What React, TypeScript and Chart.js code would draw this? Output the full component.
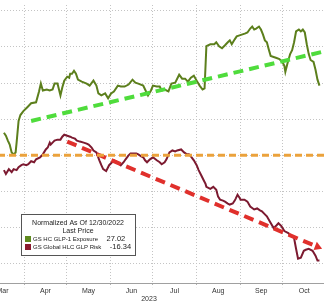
import React, { useEffect, useRef } from 'react';
import { Chart, registerables } from 'chart.js';

Chart.register(...registerables);

// ---- axis / labels ----
const monthLabels = ['Mar', 'Apr', 'May', 'Jun', 'Jul', 'Aug', 'Sep', 'Oct'];
const monthStartDays = [59, 90, 120, 151, 181, 212, 243, 273];
const monthMidDays = [74.5, 105, 135.5, 166, 196.5, 227.5, 258, 288.5];
const yearLabel = '2023';
const gridValues = [-30, -20, -10, 0, 10, 20, 30, 40];

// ---- legend text ----
const legendTitle = ['Normalized As Of 12/30/2022', 'Last Price'];
const greenName = 'GS HC GLP-1 Exposure';
const redName = 'GS Global HLC GLP Risk';
const greenLast = '27.02';
const redLast = '-16.34';

// ---- series (x = day of year 2023, y = normalized %) ----
const greenDays = [75.5, 76.9, 78.3, 79.6, 81.0, 82.4, 83.8, 84.5, 85.9, 87.2, 89.3, 92.1, 94.8, 98.3, 100.4, 101.7, 103.1, 105.9, 108.0, 110.0, 111.4, 113.5, 115.6, 116.9, 118.3, 120.4, 121.8, 122.5, 123.8, 125.2, 126.6, 128.0, 130.7, 134.2, 136.3, 139.0, 141.1, 142.5, 144.6, 147.3, 149.4, 151.5, 153.5, 156.3, 158.4, 161.1, 163.9, 166.7, 168.7, 170.8, 174.3, 176.3, 177.7, 179.8, 181.2, 183.9, 186.0, 187.4, 189.5, 192.2, 194.3, 197.0, 199.8, 201.9, 204.0, 206.0, 208.1, 210.2, 212.2, 214.3, 216.4, 217.8, 219.1, 221.9, 224.7, 226.1, 228.1, 230.2, 232.3, 234.3, 235.7, 237.1, 239.2, 240.6, 242.6, 244.7, 246.8, 248.2, 250.2, 251.6, 253.0, 254.4, 256.4, 257.8, 259.2, 260.6, 262.0, 263.3, 264.7, 266.8, 268.9, 270.9, 273.0, 274.4, 275.1, 276.5, 278.5, 279.9, 281.3, 282.7, 284.7, 286.1, 287.5, 288.9, 290.3, 291.7, 293.0, 295.1, 296.5, 297.9, 299.3];
const greenValues = [6.24, 5.42, 4.06, 2.97, 0.79, 0.25, 0.79, 3.51, 9.51, 11.14, 12.23, 13.32, 14.41, 14.68, 17.68, 19.86, 17.95, 18.22, 17.95, 18.22, 19.86, 19.86, 16.59, 18.77, 20.68, 21.76, 21.49, 22.58, 22.58, 23.40, 22.58, 20.95, 20.40, 19.86, 19.31, 20.68, 19.31, 17.13, 16.59, 17.13, 15.77, 17.13, 17.68, 19.31, 19.04, 19.04, 19.59, 20.95, 20.13, 19.86, 19.31, 17.68, 16.59, 17.95, 19.31, 19.04, 19.04, 17.95, 18.22, 17.68, 19.86, 20.13, 22.31, 21.22, 21.22, 20.40, 21.49, 22.04, 20.68, 19.31, 18.22, 18.50, 30.21, 30.75, 30.75, 31.30, 30.21, 29.66, 30.48, 31.30, 31.84, 30.75, 32.12, 32.93, 33.21, 33.48, 33.75, 34.02, 35.11, 35.66, 34.84, 35.11, 35.66, 34.84, 33.48, 31.84, 31.30, 29.39, 27.49, 27.21, 26.94, 26.67, 25.85, 24.76, 23.13, 25.31, 28.03, 29.12, 31.30, 34.30, 34.84, 34.30, 34.84, 34.02, 30.75, 28.03, 26.40, 25.85, 23.67, 20.95, 19.31];

const redDays = [75.5, 76.9, 79.0, 81.0, 82.4, 84.5, 85.9, 87.9, 89.3, 91.4, 92.8, 94.8, 96.9, 98.3, 101.1, 103.1, 105.2, 106.6, 108.0, 108.7, 110.0, 111.4, 113.5, 115.6, 116.9, 118.3, 120.4, 122.5, 123.8, 125.9, 127.3, 129.4, 132.1, 134.2, 135.6, 137.7, 139.0, 141.1, 143.2, 144.6, 145.9, 148.0, 150.1, 152.2, 153.5, 156.3, 158.4, 160.4, 161.8, 163.9, 165.3, 167.3, 169.4, 170.8, 172.9, 174.3, 175.6, 177.0, 179.1, 181.2, 183.9, 186.0, 187.4, 189.5, 190.8, 192.9, 195.0, 197.0, 198.4, 201.2, 203.3, 205.3, 206.7, 208.1, 210.2, 212.2, 213.6, 215.7, 217.1, 218.5, 219.1, 221.9, 224.0, 226.1, 227.4, 228.8, 230.9, 232.3, 234.3, 235.7, 237.8, 239.2, 239.9, 241.2, 242.6, 243.3, 246.1, 248.2, 250.2, 253.0, 255.1, 257.1, 258.5, 260.6, 262.0, 264.0, 266.8, 268.9, 270.2, 272.3, 274.4, 277.2, 279.2, 281.3, 282.7, 284.1, 286.1, 288.2, 289.6, 291.7, 294.4, 296.5, 297.9, 299.3];
const redValues = [-4.11, -5.20, -3.84, -4.66, -3.84, -4.11, -3.30, -2.75, -2.48, -2.75, -2.48, -1.66, -1.93, -1.12, -0.57, 0.25, 1.61, 2.15, 3.51, 2.97, 3.51, 4.06, 4.33, 4.33, 5.15, 5.69, 5.42, 5.15, 4.88, 4.60, 4.06, 3.79, 3.51, 3.24, 2.97, 2.15, 1.33, 0.79, -1.39, -2.75, -3.84, -4.39, -2.75, -1.93, -1.39, -1.93, -2.75, -1.93, -1.12, -0.03, 0.52, 0.52, 0.52, 0.25, -0.30, -0.57, -1.39, -1.93, -1.12, -0.57, -1.39, -1.93, -2.48, -1.93, -1.12, 0.79, 1.33, 1.06, 1.33, 1.61, 0.79, 0.25, 0.25, -0.30, -1.39, -2.75, -4.11, -5.75, -6.84, -7.93, -8.74, -9.29, -8.74, -9.56, -11.47, -12.29, -12.56, -12.83, -13.37, -13.65, -13.37, -12.56, -12.01, -10.92, -11.74, -12.29, -12.29, -12.83, -14.19, -15.01, -14.74, -15.28, -15.55, -16.37, -16.92, -18.28, -20.18, -19.37, -18.82, -19.64, -21.00, -21.55, -22.36, -22.91, -25.91, -28.63, -28.36, -26.45, -26.18, -25.91, -26.45, -27.81, -29.17, -29.17];

const greenTrendDays = [94.8, 308.9];
const greenTrendValues = [9.51, 29.36];
const redTrendDays = [120.4, 297.9];
const redTrendValues = [3.79, -25.36];
const baselineValue = 0;

// ---- view range ----
const X_MIN = 47.9;
const X_MAX = 308.9;
const Y_MIN = -35.44;
const Y_MAX = 41.63;

const GREEN = '#5c7f1c';
const RED = '#7c1a30';
const FONT = 'Liberation Sans';

const toXY = (xs: number[], ys: number[]) => xs.map((x, i) => ({ x, y: ys[i] }));

const legendEntries = [
  { name: greenName, value: greenLast, color: '#5f8a1f' },
  { name: redName, value: redLast, color: '#8b1a2f' },
];

const boxLegend = {
  id: 'boxLegend',
  afterDatasetsDraw(chart: any) {
    const ctx = chart.ctx as CanvasRenderingContext2D;
    const x = 61, y = 214, w = 114, h = 41;
    ctx.save();
    ctx.fillStyle = '#ffffff';
    ctx.fillRect(x, y, w, h);
    ctx.strokeStyle = '#555555';
    ctx.lineWidth = 1;
    ctx.strokeRect(x + 0.5, y + 0.5, w, h);
    ctx.font = `7px "${FONT}"`;
    ctx.fillStyle = '#222222';
    ctx.textBaseline = 'middle';
    ctx.textAlign = 'center';
    legendTitle.forEach((t, i) => ctx.fillText(t, x + w / 2, y + 9 + i * 8));
    ctx.textAlign = 'left';
    legendEntries.forEach((e, i) => {
      const ly = y + 25 + i * 8;
      ctx.fillStyle = e.color;
      ctx.fillRect(x + 4, ly - 3, 6, 6);
      ctx.fillStyle = '#222222';
      ctx.font = `6px "${FONT}"`;
      ctx.fillText(e.name, x + 12, ly);
      const nw = ctx.measureText(e.name).width;
      ctx.font = `7.5px "${FONT}"`;
      ctx.fillText(e.value, x + 12 + nw + 8.5, ly);
    });
    ctx.restore();
  },
};

export default function App() {
  const ref = useRef<HTMLCanvasElement>(null);

  useEffect(() => {
    const canvas = ref.current;
    if (!canvas) return;
    const tickFont = { family: FONT, size: 7, lineHeight: 1.2 };
    const chart = new Chart(canvas, {
      type: 'line',
      data: {
        datasets: [
          {
            label: 'baseline',
            data: [{ x: X_MIN, y: baselineValue }, { x: X_MAX, y: baselineValue }],
            borderColor: '#eba23c',
            borderWidth: 3,
            borderDash: [7, 4],
            pointRadius: 0,
            order: 0,
          },
          {
            label: 'greenTrend',
            data: toXY(greenTrendDays, greenTrendValues),
            borderColor: '#4fdc3c',
            borderWidth: 4,
            borderDash: [10, 6],
            pointRadius: 0,
            order: 0,
          },
          {
            label: 'redTrend',
            data: toXY(redTrendDays, redTrendValues),
            borderColor: '#e0302c',
            borderWidth: 4,
            borderDash: [10, 6],
            pointRadius: [0, 5],
            pointStyle: 'triangle',
            pointRotation: 112,
            pointBackgroundColor: '#e0302c',
            pointBorderWidth: 0,
            order: 0,
          },
          {
            label: greenName,
            data: toXY(greenDays, greenValues),
            borderColor: GREEN,
            borderWidth: 2,
            pointRadius: 0,
            order: 1,
          },
          {
            label: redName,
            data: toXY(redDays, redValues),
            borderColor: RED,
            borderWidth: 2,
            pointRadius: 0,
            order: 1,
          },
        ],
      },
      options: {
        animation: false,
        responsive: false,
        maintainAspectRatio: false,
        layout: { padding: 0 },
        elements: { line: { tension: 0 } },
        plugins: { legend: { display: false }, tooltip: { enabled: false } },
        scales: {
          x: {
            type: 'linear',
            min: X_MIN,
            max: X_MAX,
            afterBuildTicks: (s: any) => {
              s.ticks = [...monthStartDays, ...monthMidDays].sort((a, b) => a - b).map((v) => ({ value: v }));
            },
            ticks: {
              autoSkip: false,
              maxRotation: 0,
              minRotation: 0,
              padding: 0,
              color: '#333333',
              font: tickFont,
              callback: (v: any) => {
                const i = monthMidDays.indexOf(Number(v));
                return i >= 0 ? monthLabels[i] : '';
              },
            },
            grid: {
              color: (c: any) => (c.tick && monthStartDays.includes(c.tick.value) ? '#c4c4c4' : 'rgba(0,0,0,0)'),
              tickColor: (c: any) => (c.tick && monthStartDays.includes(c.tick.value) ? '#b0b0b0' : 'rgba(0,0,0,0)'),
              lineWidth: 1,
              tickLength: 4,
              tickBorderDash: [1, 2],
              drawTicks: true,
            },
            border: { display: true, color: '#a0a0a0', width: 1, dash: [1, 2] },
            title: {
              display: true,
              text: yearLabel,
              color: '#333333',
              font: tickFont,
              padding: { top: -1, bottom: 0 },
            },
          },
          y: {
            type: 'linear',
            min: Y_MIN,
            max: Y_MAX,
            afterBuildTicks: (s: any) => {
              s.ticks = gridValues.map((v) => ({ value: v }));
            },
            ticks: { display: false },
            grid: { color: '#c4c4c4', lineWidth: 1, drawTicks: false },
            border: { display: false, dash: [1, 2] },
          },
        },
      },
      plugins: [boxLegend],
    } as any);
    return () => chart.destroy();
  }, []);

  return (
    <div style={{ position: 'fixed', left: 0, top: 0, width: 324, height: 301, overflow: 'hidden', background: '#fff' }}>
      <canvas
        ref={ref}
        width={378}
        height={303}
        style={{ position: 'absolute', left: -40, top: 0, width: 378, height: 303 }}
      />
    </div>
  );
}
